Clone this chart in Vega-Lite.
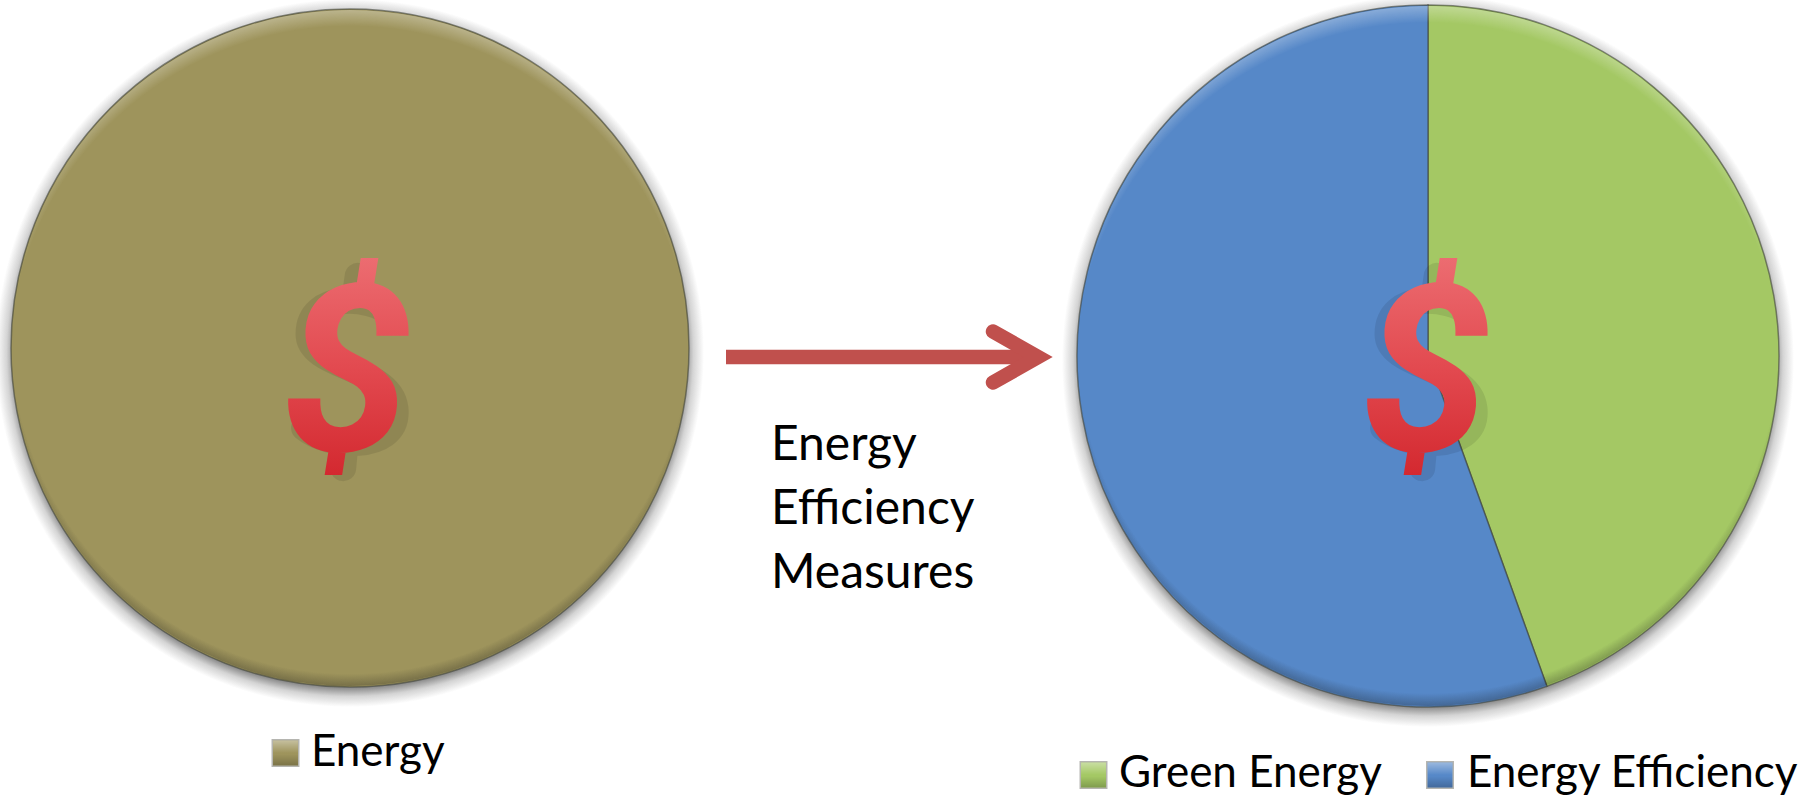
{
  "$schema": "https://vega.github.io/schema/vega-lite/v6.json",
  "width": 1808,
  "height": 799,
  "padding": 0,
  "autosize": "none",
  "background": "white",
  "config": {"view": {"stroke": null}, "axis": {"disable": true}},
  "datasets": {
    "slices": [
      {"pie": "Before", "segment": "Energy", "share": 100},
      {"pie": "After", "segment": "Green Energy", "share": 44.5},
      {"pie": "After", "segment": "Energy Efficiency", "share": 55.5}
    ],
    "pies": [{"pie": "Before"}, {"pie": "After"}],
    "legendBefore": [{"segment": "Energy"}],
    "legendAfter": [{"segment": "Green Energy"}, {"segment": "Energy Efficiency"}],
    "caption": [{"line": "Energy"}, {"line": "Efficiency"}, {"line": "Measures"}],
    "shaft": [{"stop": "tail", "step": 1}, {"stop": "tip", "step": 2}],
    "head": [
      {"depth": "barb", "side": "upper", "step": 1},
      {"depth": "tip", "side": "middle", "step": 2},
      {"depth": "barb", "side": "lower", "step": 3}
    ]
  },
  "resolve": {
    "scale": {"x": "independent", "y": "independent", "radius": "independent", "theta": "independent", "color": "independent", "fill": "independent"},
    "legend": {"color": "independent", "fill": "independent"}
  },
  "layer": [
    {
      "description": "Soft drop shadow under each pie",
      "data": {"name": "pies"},
      "mark": {
        "type": "arc", "theta": 0, "theta2": 6.2832,
        "fill": {
          "gradient": "radial", "x1": 0.5, "y1": 0.5, "r1": 0, "x2": 0.5, "y2": 0.5, "r2": 0.5,
          "stops": [
            {"offset": 0, "color": "rgba(40,40,40,0.55)"},
            {"offset": 0.945, "color": "rgba(40,40,40,0.55)"},
            {"offset": 0.97, "color": "rgba(40,40,40,0.2)"},
            {"offset": 1, "color": "rgba(40,40,40,0)"}
          ]
        }
      },
      "encoding": {
        "x": {"field": "pie", "type": "nominal", "axis": null, "scale": {"type": "point", "padding": 0, "domain": ["Before", "After"], "range": [350, 1428]}},
        "y": {"field": "pie", "type": "nominal", "axis": null, "scale": {"type": "point", "padding": 0, "domain": ["Before", "After"], "range": [353, 361]}},
        "radius": {"field": "pie", "type": "nominal", "scale": {"type": "point", "padding": 0, "domain": ["Before", "After"], "range": [354, 366]}},
        "radius2": {"value": 0}
      }
    },
    {
      "description": "Pie slices",
      "data": {"name": "slices"},
      "mark": {"type": "arc", "stroke": "#3f4238", "strokeWidth": 1.5, "strokeOpacity": 0.6},
      "encoding": {
        "x": {"field": "pie", "type": "nominal", "axis": null, "scale": {"type": "point", "padding": 0, "domain": ["Before", "After"], "range": [350, 1428]}},
        "y": {"field": "pie", "type": "nominal", "axis": null, "scale": {"type": "point", "padding": 0, "domain": ["Before", "After"], "range": [348, 356]}},
        "radius": {"field": "pie", "type": "nominal", "scale": {"type": "point", "padding": 0, "domain": ["Before", "After"], "range": [339, 351]}},
        "radius2": {"value": 0},
        "theta": {"field": "share", "type": "quantitative", "stack": true, "scale": {"domain": [0, 100]}},
        "order": {"field": "segment", "type": "nominal", "sort": "descending"},
        "color": {
          "field": "segment", "type": "nominal", "legend": null,
          "scale": {"domain": ["Energy", "Green Energy", "Energy Efficiency"], "range": ["#9E945C", "#A4C864", "#5688C8"]}
        }
      }
    },
    {
      "description": "Light bevel along the upper rim of each pie",
      "data": {"name": "pies"},
      "mark": {
        "type": "arc", "theta": 0, "theta2": 6.2832,
        "fill": {
          "gradient": "radial", "x1": 0.5, "y1": 0.53, "r1": 0, "x2": 0.5, "y2": 0.53, "r2": 0.53,
          "stops": [
            {"offset": 0, "color": "rgba(255,255,255,0)"},
            {"offset": 0.955, "color": "rgba(255,255,255,0)"},
            {"offset": 1, "color": "rgba(255,255,255,0.3)"}
          ]
        }
      },
      "encoding": {
        "x": {"field": "pie", "type": "nominal", "axis": null, "scale": {"type": "point", "padding": 0, "domain": ["Before", "After"], "range": [350, 1428]}},
        "y": {"field": "pie", "type": "nominal", "axis": null, "scale": {"type": "point", "padding": 0, "domain": ["Before", "After"], "range": [348, 356]}},
        "radius": {"field": "pie", "type": "nominal", "scale": {"type": "point", "padding": 0, "domain": ["Before", "After"], "range": [338, 350]}},
        "radius2": {"value": 0}
      }
    },
    {
      "description": "Dark bevel along the lower rim of each pie",
      "data": {"name": "pies"},
      "mark": {
        "type": "arc", "theta": 0, "theta2": 6.2832,
        "fill": {
          "gradient": "radial", "x1": 0.5, "y1": 0.48, "r1": 0, "x2": 0.5, "y2": 0.48, "r2": 0.52,
          "stops": [
            {"offset": 0, "color": "rgba(20,20,20,0)"},
            {"offset": 0.965, "color": "rgba(20,20,20,0)"},
            {"offset": 1, "color": "rgba(20,20,20,0.28)"}
          ]
        }
      },
      "encoding": {
        "x": {"field": "pie", "type": "nominal", "axis": null, "scale": {"type": "point", "padding": 0, "domain": ["Before", "After"], "range": [350, 1428]}},
        "y": {"field": "pie", "type": "nominal", "axis": null, "scale": {"type": "point", "padding": 0, "domain": ["Before", "After"], "range": [348, 356]}},
        "radius": {"field": "pie", "type": "nominal", "scale": {"type": "point", "padding": 0, "domain": ["Before", "After"], "range": [338, 350]}},
        "radius2": {"value": 0}
      }
    },
    {
      "description": "Soft shadow cast by the dollar signs, drawn as a broad S stroke",
      "data": {"name": "pies"},
      "mark": {
        "type": "point",
        "shape": "M0.36,-0.52C0.16,-0.68,-0.38,-0.72,-0.38,-0.34C-0.38,-0.02,0.4,-0.05,0.4,0.36C0.4,0.72,-0.2,0.68,-0.42,0.5M0.06,-0.86L0.03,-0.65M-0.07,0.86L-0.05,0.65",
        "size": 50000, "filled": false, "stroke": "#000000", "strokeWidth": 26, "strokeOpacity": 0.09, "strokeCap": "round", "opacity": 1
      },
      "encoding": {
        "x": {"field": "pie", "type": "nominal", "axis": null, "scale": {"type": "point", "padding": 0, "domain": ["Before", "After"], "range": [351, 1430]}},
        "y": {"field": "pie", "type": "nominal", "axis": null, "scale": {"type": "point", "padding": 0, "domain": ["Before", "After"], "range": [372, 372]}}
      }
    },
    {
      "description": "Dollar signs at the centre of each pie",
      "data": {"name": "pies"},
      "mark": {
        "type": "text", "text": "$", "font": "Roboto", "fontSize": 234, "fontWeight": 700, "fontStyle": "italic", "align": "center", "baseline": "alphabetic",
        "fill": {
          "gradient": "linear", "x1": 0, "y1": 0, "x2": 0, "y2": 1,
          "stops": [{"offset": 0, "color": "#EE7478"}, {"offset": 0.5, "color": "#E2494F"}, {"offset": 1, "color": "#CF1F26"}]
        }
      },
      "encoding": {
        "x": {"field": "pie", "type": "nominal", "axis": null, "scale": {"type": "point", "padding": 0, "domain": ["Before", "After"], "range": [346, 1425]}},
        "y": {"field": "pie", "type": "nominal", "axis": null, "scale": {"type": "point", "padding": 0, "domain": ["Before", "After"], "range": [450, 450]}}
      }
    },
    {
      "description": "Arrow shaft",
      "data": {"name": "shaft"},
      "mark": {"type": "line", "stroke": "#C0504D", "strokeWidth": 14.5, "strokeCap": "butt"},
      "encoding": {
        "x": {"field": "stop", "type": "nominal", "axis": null, "scale": {"type": "point", "padding": 0, "domain": ["tail", "tip"], "range": [726, 1036]}},
        "y": {"field": "stop", "type": "nominal", "axis": null, "scale": {"type": "point", "padding": 0, "domain": ["tail", "tip"], "range": [357, 357]}},
        "order": {"field": "step", "type": "quantitative"}
      }
    },
    {
      "description": "Arrow head",
      "data": {"name": "head"},
      "mark": {"type": "line", "stroke": "#C0504D", "strokeWidth": 14.5, "strokeCap": "round", "strokeJoin": "miter", "strokeMiterLimit": 10},
      "encoding": {
        "x": {"field": "depth", "type": "nominal", "axis": null, "scale": {"type": "point", "padding": 0, "domain": ["barb", "tip"], "range": [993, 1038]}},
        "y": {"field": "side", "type": "nominal", "axis": null, "scale": {"type": "point", "padding": 0, "domain": ["upper", "middle", "lower"], "range": [331.5, 382.5]}},
        "order": {"field": "step", "type": "quantitative"}
      }
    },
    {
      "description": "Caption under the arrow",
      "data": {"name": "caption"},
      "mark": {"type": "text", "font": "Lato", "fontSize": 48, "align": "left", "baseline": "alphabetic", "fill": "#000000"},
      "encoding": {
        "text": {"field": "line", "type": "nominal"},
        "x": {"field": "line", "type": "nominal", "axis": null, "scale": {"type": "point", "padding": 0, "domain": ["Energy", "Efficiency", "Measures"], "range": [771, 771]}},
        "y": {"field": "line", "type": "nominal", "axis": null, "scale": {"type": "point", "padding": 0, "domain": ["Energy", "Efficiency", "Measures"], "range": [460, 588]}}
      }
    },
    {
      "description": "Legend swatch, left pie",
      "data": {"name": "legendBefore"},
      "mark": {"type": "point", "shape": "square", "filled": true, "size": 700, "stroke": "#B5B5B0", "strokeWidth": 1.5, "opacity": 1, "color": "#9E945C"},
      "encoding": {
        "x": {"field": "segment", "type": "nominal", "axis": null, "scale": {"type": "point", "padding": 0, "domain": ["Energy"], "range": [285.5, 285.5]}},
        "y": {"field": "segment", "type": "nominal", "axis": null, "scale": {"type": "point", "padding": 0, "domain": ["Energy"], "range": [753, 753]}}
      }
    },
    {
      "description": "Legend swatches, right pie",
      "data": {"name": "legendAfter"},
      "mark": {"type": "point", "shape": "square", "filled": true, "size": 700, "stroke": "#B5B5B0", "strokeWidth": 1.5, "opacity": 1},
      "encoding": {
        "x": {"field": "segment", "type": "nominal", "axis": null, "scale": {"type": "point", "padding": 0, "domain": ["Green Energy", "Energy Efficiency"], "range": [1093.5, 1440]}},
        "y": {"field": "segment", "type": "nominal", "axis": null, "scale": {"type": "point", "padding": 0, "domain": ["Green Energy", "Energy Efficiency"], "range": [775, 775]}},
        "fill": {
          "field": "segment", "type": "nominal", "legend": null,
          "scale": {"domain": ["Green Energy", "Energy Efficiency"], "range": ["#A4C864", "#5688C8"]}
        }
      }
    },
    {
      "description": "Bevel shading, left swatch",
      "data": {"name": "legendBefore"},
      "mark": {
        "type": "point", "shape": "square", "filled": true, "size": 620, "opacity": 1,
        "fill": {
          "gradient": "linear", "x1": 0, "y1": 0, "x2": 0, "y2": 1,
          "stops": [
            {"offset": 0, "color": "rgba(255,255,255,0.4)"},
            {"offset": 0.5, "color": "rgba(255,255,255,0)"},
            {"offset": 0.55, "color": "rgba(0,0,0,0)"},
            {"offset": 1, "color": "rgba(0,0,0,0.22)"}
          ]
        }
      },
      "encoding": {
        "x": {"field": "segment", "type": "nominal", "axis": null, "scale": {"type": "point", "padding": 0, "domain": ["Energy"], "range": [285.5, 285.5]}},
        "y": {"field": "segment", "type": "nominal", "axis": null, "scale": {"type": "point", "padding": 0, "domain": ["Energy"], "range": [753, 753]}}
      }
    },
    {
      "description": "Bevel shading, right swatches",
      "data": {"name": "legendAfter"},
      "mark": {
        "type": "point", "shape": "square", "filled": true, "size": 620, "opacity": 1,
        "fill": {
          "gradient": "linear", "x1": 0, "y1": 0, "x2": 0, "y2": 1,
          "stops": [
            {"offset": 0, "color": "rgba(255,255,255,0.4)"},
            {"offset": 0.5, "color": "rgba(255,255,255,0)"},
            {"offset": 0.55, "color": "rgba(0,0,0,0)"},
            {"offset": 1, "color": "rgba(0,0,0,0.22)"}
          ]
        }
      },
      "encoding": {
        "x": {"field": "segment", "type": "nominal", "axis": null, "scale": {"type": "point", "padding": 0, "domain": ["Green Energy", "Energy Efficiency"], "range": [1093.5, 1440]}},
        "y": {"field": "segment", "type": "nominal", "axis": null, "scale": {"type": "point", "padding": 0, "domain": ["Green Energy", "Energy Efficiency"], "range": [775, 775]}}
      }
    },
    {
      "description": "Legend label, left pie",
      "data": {"name": "legendBefore"},
      "mark": {"type": "text", "font": "Lato", "fontSize": 44, "align": "left", "baseline": "alphabetic", "fill": "#000000"},
      "encoding": {
        "text": {"field": "segment", "type": "nominal"},
        "x": {"field": "segment", "type": "nominal", "axis": null, "scale": {"type": "point", "padding": 0, "domain": ["Energy"], "range": [311, 311]}},
        "y": {"field": "segment", "type": "nominal", "axis": null, "scale": {"type": "point", "padding": 0, "domain": ["Energy"], "range": [766, 766]}}
      }
    },
    {
      "description": "Legend labels, right pie",
      "data": {"name": "legendAfter"},
      "mark": {"type": "text", "font": "Lato", "fontSize": 44, "align": "left", "baseline": "alphabetic", "fill": "#000000"},
      "encoding": {
        "text": {"field": "segment", "type": "nominal"},
        "x": {"field": "segment", "type": "nominal", "axis": null, "scale": {"type": "point", "padding": 0, "domain": ["Green Energy", "Energy Efficiency"], "range": [1119, 1467]}},
        "y": {"field": "segment", "type": "nominal", "axis": null, "scale": {"type": "point", "padding": 0, "domain": ["Green Energy", "Energy Efficiency"], "range": [787, 787]}}
      }
    }
  ]
}
